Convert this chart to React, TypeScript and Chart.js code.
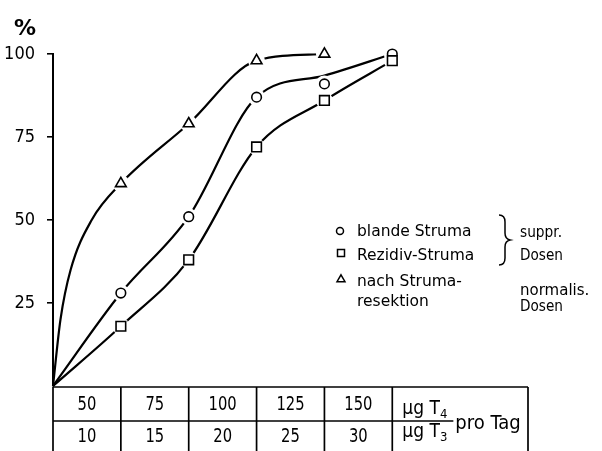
import React, { useEffect, useRef } from 'react';
import { Chart, registerables } from 'chart.js';

Chart.register(...registerables);

// ---- data ----
const doseT4 = ['50', '75', '100', '125', '150'];
const doseT3 = ['10', '15', '20', '25', '30'];
const yTicks = [25, 50, 75, 100];

// measured marks (x = dose column 1..5)
const blandeStruma = [28, 51, 87, 91, 100];
const rezidivStruma = [18, 38, 72, 86, 98];
const nachResektion = [61, 79, 98, 100];

// drawn curves (x in dose columns, 0 = origin)
const blandeKurveX = [0, 1, 2, 3, 4, 5];
const blandeKurve = [0, 28, 51, 87, 93.5, 100];
const rezidivKurveX = [0, 1, 2, 3, 4, 5];
const rezidivKurve = [0, 18, 38, 72, 86, 98];
const resektionKurveX = [0, 0.11, 0.26, 0.57, 1, 2, 3, 4];
const resektionKurve = [0, 20, 35, 50, 61, 79, 98, 100];

const NUM_FONT = '"DejaVu Sans Condensed", "DejaVu Sans", sans-serif';
const TXT_FONT = '"DejaVu Sans", "Noto Sans", sans-serif';

const marks = (arr: number[]) => arr.map((v, i) => ({ x: i + 1, y: v }));
const curve = (xs: number[], ys: number[]) => ys.map((v, i) => ({ x: xs[i], y: v }));

function drawMarker(ctx: CanvasRenderingContext2D, style: string, x: number, y: number, r: number) {
  ctx.beginPath();
  if (style === 'circle') {
    ctx.arc(x, y, r, 0, Math.PI * 2);
  } else if (style === 'rect') {
    ctx.rect(x - r, y - r, 2 * r, 2 * r);
  } else {
    ctx.moveTo(x, y - r);
    ctx.lineTo(x + r * 0.95, y + r * 0.65);
    ctx.lineTo(x - r * 0.95, y + r * 0.65);
    ctx.closePath();
  }
  ctx.fillStyle = '#fff';
  ctx.fill();
  ctx.strokeStyle = '#000';
  ctx.lineWidth = 1.5;
  ctx.stroke();
}

// narrow text: draw horizontally compressed
function narrowText(ctx: CanvasRenderingContext2D, text: string, x: number, y: number, sx: number) {
  ctx.save();
  ctx.translate(x, y);
  ctx.scale(sx, 1);
  ctx.fillText(text, 0, 0);
  ctx.restore();
}

const tablePlugin = {
  id: 'doseTable',
  afterDraw(chart: any) {
    const { ctx, chartArea } = chart;
    const x = chart.scales.x;
    const top = chartArea.bottom + 1;
    const mid = top + 34;
    const bottom = chart.height;
    ctx.save();
    ctx.strokeStyle = '#000';
    ctx.lineWidth = 1.7;
    const line = (x1: number, y1: number, x2: number, y2: number) => {
      ctx.beginPath();
      ctx.moveTo(x1, y1);
      ctx.lineTo(x2, y2);
      ctx.stroke();
    };
    line(x.getPixelForValue(0), top, x.getPixelForValue(7), top);
    line(x.getPixelForValue(0), mid, x.getPixelForValue(5.9), mid);
    [0, 1, 2, 3, 4, 5, 7].forEach((v) => line(x.getPixelForValue(v), top, x.getPixelForValue(v), bottom));

    ctx.fillStyle = '#000';
    ctx.textAlign = 'center';
    ctx.textBaseline = 'middle';
    ctx.font = `20px ${NUM_FONT}`;
    doseT4.forEach((t, i) => narrowText(ctx, t, x.getPixelForValue(i + 0.5), (top + mid) / 2 + 1, 0.82));
    doseT3.forEach((t, i) => narrowText(ctx, t, x.getPixelForValue(i + 0.5), (mid + bottom) / 2 + 1, 0.82));

    // unit cell
    const ux = x.getPixelForValue(5) + 10;
    ctx.textAlign = 'left';
    ctx.textBaseline = 'alphabetic';
    ctx.font = `19px ${NUM_FONT}`;
    const w1 = ctx.measureText('µg T').width;
    ctx.fillText('µg T', ux, top + 27);
    ctx.fillText('µg T', ux, mid + 16);
    ctx.font = `13px ${NUM_FONT}`;
    ctx.fillText('4', ux + w1, top + 31);
    ctx.fillText('3', ux + w1, mid + 20);
    ctx.font = `20px ${NUM_FONT}`;
    ctx.fillText('pro Tag', x.getPixelForValue(5.9) + 2, mid + 8);
    ctx.restore();
  },
};

const legendPlugin = {
  id: 'legendText',
  afterDraw(chart: any) {
    const { ctx } = chart;
    ctx.save();
    // percent sign
    ctx.fillStyle = '#000';
    ctx.font = `bold 22px ${TXT_FONT}`;
    ctx.textAlign = 'left';
    ctx.textBaseline = 'alphabetic';
    ctx.fillText('%', 14, 35);

    drawMarker(ctx, 'circle', 340, 231, 3.5);
    drawMarker(ctx, 'rect', 341, 253, 3.5);
    drawMarker(ctx, 'triangle', 341, 279, 4.2);

    ctx.fillStyle = '#000';
    ctx.font = `15.5px ${TXT_FONT}`;
    ctx.fillText('blande Struma', 357, 236);
    ctx.fillText('Rezidiv-Struma', 357, 260);
    ctx.fillText('nach Struma-', 357, 286);
    ctx.fillText('resektion', 357, 306);
    ctx.font = `15px ${TXT_FONT}`;
    ctx.fillText('suppr.', 520, 237, 42);
    ctx.fillText('Dosen', 520, 260, 43);
    ctx.fillText('normalis.', 520, 295);
    ctx.fillText('Dosen', 520, 311, 43);

    // brace
    ctx.strokeStyle = '#000';
    ctx.lineWidth = 1.5;
    ctx.beginPath();
    ctx.moveTo(499, 215);
    ctx.quadraticCurveTo(505, 215, 505, 222);
    ctx.lineTo(505, 233);
    ctx.quadraticCurveTo(505, 239, 510, 240);
    ctx.quadraticCurveTo(505, 241, 505, 247);
    ctx.lineTo(505, 258);
    ctx.quadraticCurveTo(505, 265, 499, 265);
    ctx.stroke();
    ctx.restore();
  },
};

export default function App() {
  const ref = useRef<HTMLCanvasElement | null>(null);

  useEffect(() => {
    if (!ref.current) return;
    const lineDs = (data: any[]) => ({
      data,
      borderColor: '#000',
      borderWidth: 2.2,
      pointRadius: 0,
      cubicInterpolationMode: 'monotone' as const,
      fill: false,
      clip: false as any,
      order: 3,
    });
    // white halo under each marker: leaves the small gap between curve and marker
    const haloDs = (data: any[]) => ({
      data,
      showLine: false,
      pointRadius: 8.5,
      pointStyle: 'circle' as const,
      pointBackgroundColor: '#ffffff',
      pointBorderColor: '#ffffff',
      pointBorderWidth: 0,
      clip: false as any,
      order: 2,
    });
    const markDs = (data: any[], style: string, r: number) => ({
      data,
      showLine: false,
      pointRadius: r,
      pointStyle: style as any,
      pointBackgroundColor: '#fff',
      pointBorderColor: '#000',
      pointBorderWidth: 1.6,
      clip: false as any,
      order: 1,
    });

    const chart = new Chart(ref.current, {
      type: 'line',
      data: {
        datasets: [
          lineDs(curve(resektionKurveX, resektionKurve)),
          lineDs(curve(blandeKurveX, blandeKurve)),
          lineDs(curve(rezidivKurveX, rezidivKurve)),
          haloDs(marks(nachResektion)),
          haloDs(marks(blandeStruma)),
          haloDs(marks(rezidivStruma)),
          markDs(marks(rezidivStruma), 'rect', 6.8),
          markDs(marks(nachResektion), 'triangle', 6.2),
          markDs(marks(blandeStruma), 'circle', 4.8),
        ] as any,
      },
      options: {
        animation: false,
        responsive: false,
        events: [],
        layout: { padding: { left: 0, top: 54, right: 74, bottom: 65 } },
        plugins: { legend: { display: false }, tooltip: { enabled: false } },
        scales: {
          x: { type: 'linear', min: 0, max: 7, display: false },
          y: {
            type: 'linear',
            min: 0,
            max: 100,
            afterBuildTicks: (s: any) => {
              s.ticks = [0, ...yTicks].map((v) => ({ value: v }));
            },
            afterFit: (s: any) => {
              s.width = 53;
              s.paddingTop = 0;
              s.paddingBottom = 0;
            },
            ticks: {
              color: '#000',
              padding: 12,
              font: { family: NUM_FONT, size: 18 },
              callback: (v: any) => (v === 0 ? '' : String(v)),
            },
            grid: {
              drawOnChartArea: false,
              drawTicks: true,
              tickLength: 6,
              lineWidth: 1.6,
              color: (c: any) => (c.tick && c.tick.value === 0 ? 'rgba(0,0,0,0)' : '#000'),
            },
            border: { display: true, color: '#000', width: 2 },
          },
        },
      },
      plugins: [tablePlugin, legendPlugin],
    });
    return () => chart.destroy();
  }, []);

  return (
    <div style={{ position: 'fixed', left: 0, top: 0, width: 602, height: 451, background: '#fff' }}>
      <canvas ref={ref} width={602} height={451} style={{ width: 602, height: 451, display: 'block' }} />
    </div>
  );
}
